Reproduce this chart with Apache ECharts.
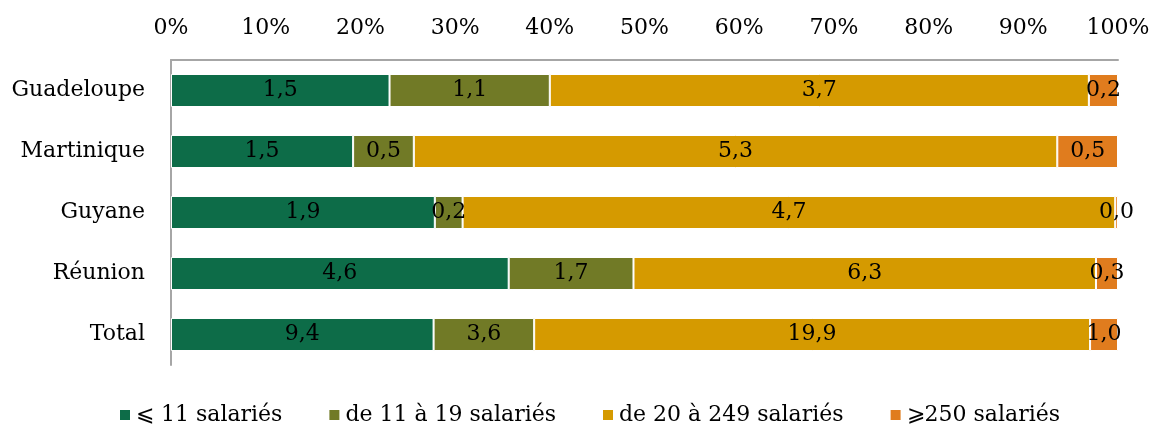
<!DOCTYPE html>
<html>
<head>
<meta charset="utf-8">
<script src="https://cdn.jsdelivr.net/npm/echarts@6/dist/echarts.min.js"></script>
<style>
  html, body { margin: 0; padding: 0; background: #fff; }
  #chart { width: 1154px; height: 430px; }
</style>
</head>
<body>
<div id="chart"></div>
<script>
// Territoires (top to bottom)
const categories = ['Guadeloupe', 'Martinique', 'Guyane', 'Réunion', 'Total'];

// Effectifs par taille d'établissement (valeurs affichées dans les barres)
const seriesNames = ['⩽ 11 salariés', 'de 11 à 19 salariés', 'de 20 à 249 salariés', '⩾250 salariés'];
const moins11 = [1.5, 1.5, 1.9, 4.6, 9.4];
const de11a19 = [1.1, 0.5, 0.2, 1.7, 3.6];
const de20a249 = [3.7, 5.3, 4.7, 6.3, 19.9];
const plus250 = [0.2, 0.5, 0.02, 0.3, 1.0];

const xTicks = [0, 10, 20, 30, 40, 50, 60, 70, 80, 90, 100];
const colors = ['#0D6C48', '#717A26', '#D59A00', '#E07C1E'];

const FONT = 'DejaVu Serif';
const FS = 22;

const rows = [moins11, de11a19, de20a249, plus250];
const totals = categories.map((_, i) => rows.reduce((s, r) => s + r[i], 0));

const fmt = v => v.toFixed(1).replace('.', ',');

const series = rows.map((vals, k) => ({
  name: seriesNames[k],
  type: 'bar',
  stack: 'all',
  barWidth: 33,
  data: vals.map((v, i) => ({ value: v / totals[i] * 100, raw: v })),
  itemStyle: { color: colors[k], borderColor: '#ffffff', borderWidth: 1 },
  label: {
    show: true,
    position: 'inside',
    color: '#000',
    fontFamily: FONT,
    fontSize: FS,
    formatter: p => fmt(p.data.raw)
  }
}));

const chart = echarts.init(document.getElementById('chart'), null, { renderer: 'canvas' });
chart.setOption({
  animation: false,
  color: colors,
  textStyle: { fontFamily: FONT },
  grid: { left: 171, right: 36, top: 60, bottom: 65, containLabel: false },
  xAxis: {
    type: 'value',
    position: 'top',
    min: xTicks[0],
    max: xTicks[xTicks.length - 1],
    interval: 10,
    axisLine: { show: true, lineStyle: { color: '#A6A6A6', width: 2 } },
    axisTick: { show: false },
    splitLine: { show: false },
    axisLabel: {
      color: '#000', fontFamily: FONT, fontSize: FS, margin: 21,
      formatter: v => v + '%'
    }
  },
  yAxis: {
    type: 'category',
    inverse: true,
    data: categories,
    axisLine: { show: true, lineStyle: { color: '#A6A6A6', width: 2 } },
    axisTick: { show: false },
    axisLabel: { color: '#000', fontFamily: FONT, fontSize: FS, margin: 26 }
  },
  legend: {
    left: 118,
    top: 403,
    padding: 0,
    itemWidth: 12,
    itemHeight: 12,
    itemGap: 45,
    itemTextGap: 8,
    icon: 'rect',
    textStyle: { color: '#000', fontFamily: FONT, fontSize: FS, lineHeight: 24 },
    data: seriesNames
  },
  series: series
});
</script>
</body>
</html>
